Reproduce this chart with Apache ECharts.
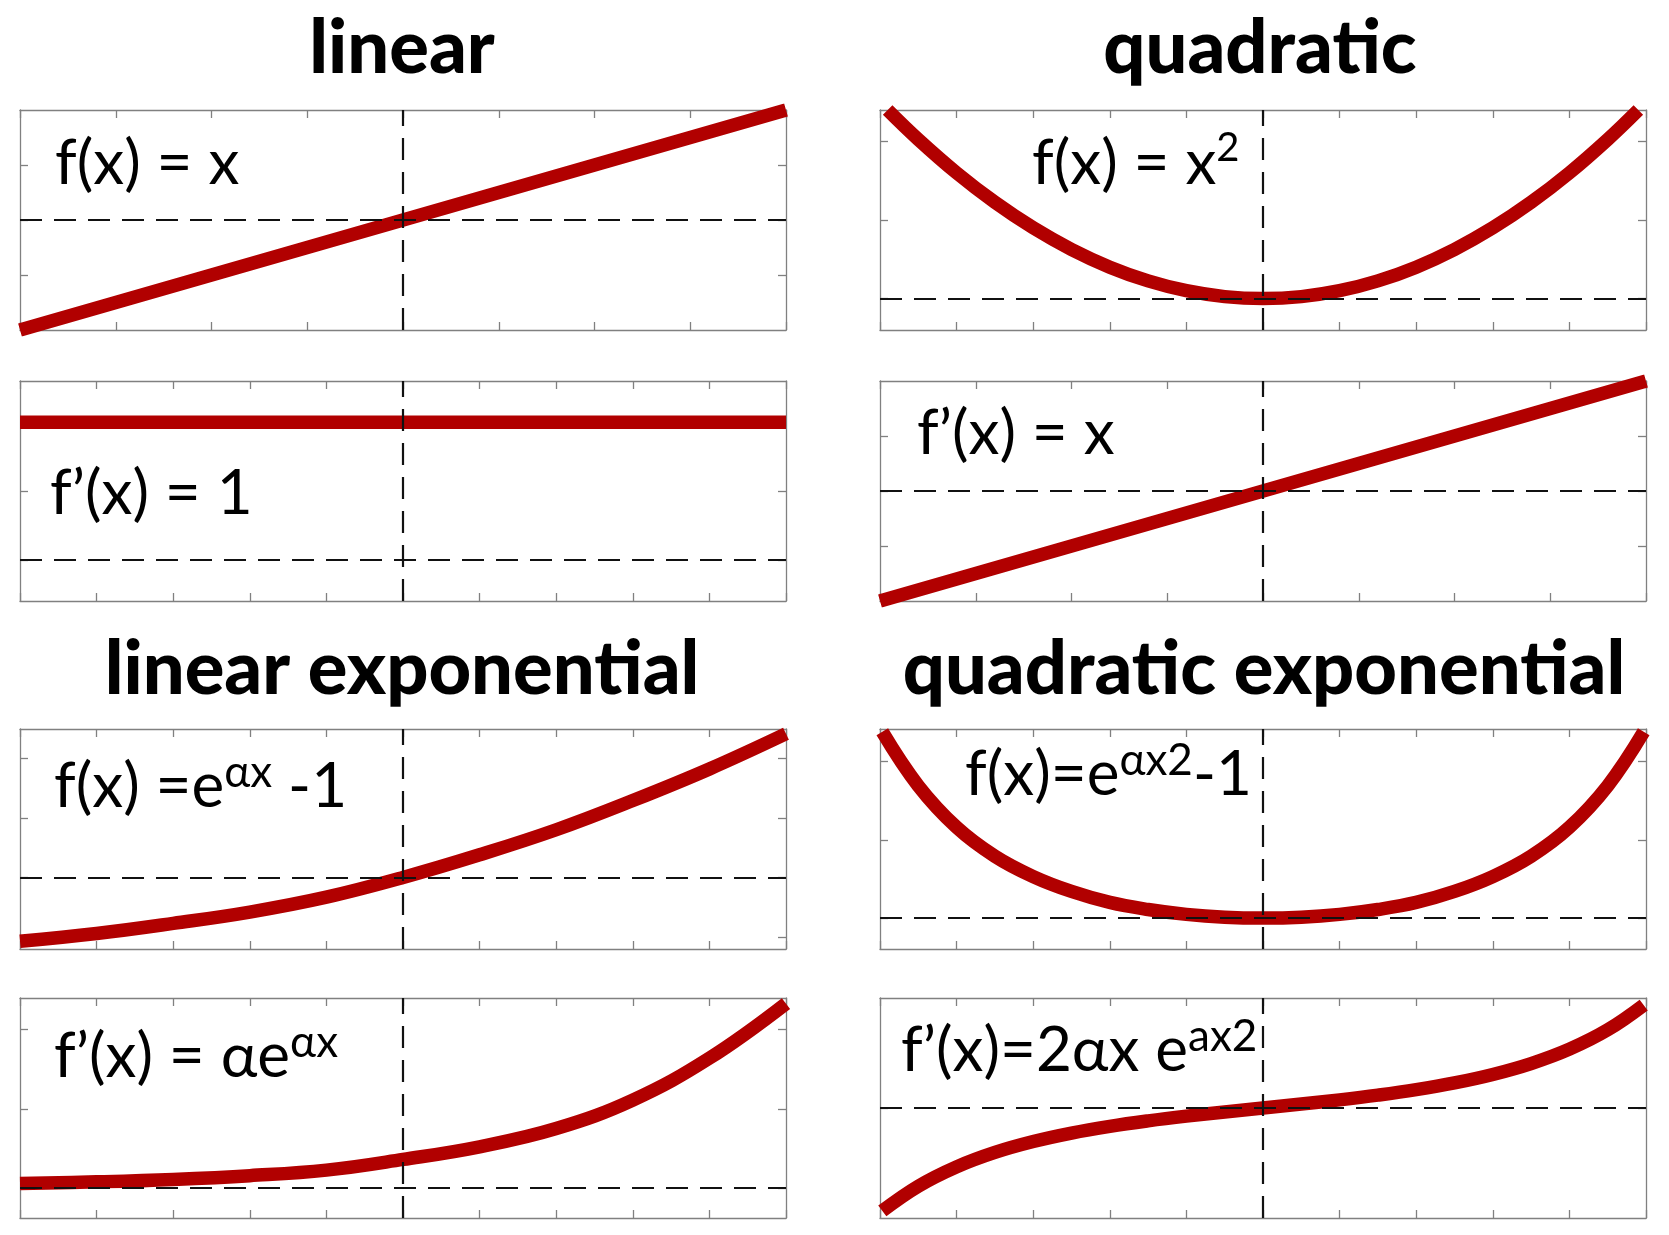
<!DOCTYPE html>
<html>
<head>
<meta charset="utf-8">
<script src="https://cdn.jsdelivr.net/npm/echarts@6/dist/echarts.min.js"></script>
<style>
html,body{margin:0;padding:0;background:#fff;}
#chart{width:1669px;height:1235px;}
</style>
</head>
<body>
<div id="chart"></div>
<script>
// ---------------- data ----------------
const titles = ['linear', 'quadratic', 'linear exponential', 'quadratic exponential'];

// linear: f(x) = x
const xLinF = [-4, -3, -2, -1, 0, 1, 2, 3, 4];
const yLinF = [-4, -3, -2, -1, 0, 1, 2, 3, 4];
// linear: f'(x) = 1
const xLinD = [-5, -4, -3, -2, -1, 0, 1, 2, 3, 4, 5];
const yLinD = [1, 1, 1, 1, 1, 1, 1, 1, 1, 1, 1];
// quadratic: f(x) = x^2
const xQuadF = [-4.9, -4.5, -4, -3.5, -3, -2.5, -2, -1.5, -1, -0.5, 0, 0.5, 1, 1.5, 2, 2.5, 3, 3.5, 4, 4.5, 4.9];
const yQuadF = [24, 20.25, 16, 12.25, 9, 6.25, 4, 2.25, 1, 0.25, 0, 0.25, 1, 2.25, 4, 6.25, 9, 12.25, 16, 20.25, 24];
// quadratic: f'(x) = x
const xQuadD = [-4, -3, -2, -1, 0, 1, 2, 3, 4];
const yQuadD = [-4, -3, -2, -1, 0, 1, 2, 3, 4];
// linear exponential: f(x) = e^(ax) - 1
const xLinExpF = [-5, -4, -3, -2, -1, 0, 1, 2, 3, 4, 5];
const yLinExpF = [-1.07, -0.94, -0.77, -0.58, -0.33, 0, 0.38, 0.80, 1.29, 1.82, 2.41];
// linear exponential: f'(x) = a e^(ax)
const xLinExpD = [-5, -4, -3, -2, -1, 0, 1, 2, 3, 4, 5];
const yLinExpD = [0.055, 0.077, 0.108, 0.155, 0.225, 0.36, 0.52, 0.75, 1.11, 1.64, 2.33];
// quadratic exponential: f(x) = e^(ax^2) - 1
const xQuadExpF = [-4.97, -4.5, -4, -3.5, -3, -2.5, -2, -1.5, -1, -0.5, 0, 0.5, 1, 1.5, 2, 2.5, 3, 3.5, 4, 4.5, 4.97];
const yQuadExpF = [2.38, 1.69, 1.16, 0.79, 0.53, 0.34, 0.20, 0.11, 0.047, 0.011, 0, 0.011, 0.047, 0.11, 0.20, 0.34, 0.53, 0.79, 1.16, 1.69, 2.38];
// quadratic exponential: f'(x) = 2ax e^(ax^2)
const xQuadExpD = [-4.97, -4.5, -4, -3.5, -3, -2.5, -2, -1.5, -1, -0.5, 0, 0.5, 1, 1.5, 2, 2.5, 3, 3.5, 4, 4.5, 4.97];
const yQuadExpD = [-0.936, -0.711, -0.535, -0.404, -0.305, -0.228, -0.167, -0.117, -0.074, -0.036, 0, 0.036, 0.074, 0.117, 0.167, 0.228, 0.305, 0.404, 0.535, 0.711, 0.936];

// axis ranges and tick values
const xRange8 = [-4, 4];
const xRange10 = [-5, 5];
const yRangeLinF = [-4, 4],      yTicksLinF = [-2, 0, 2];
const yRangeLinD = [-0.3, 1.3],  yTicksLinD = [0, 0.5, 1];
const yRangeQuadF = [-4, 24],    yTicksQuadF = [0, 10, 20];
const yRangeQuadD = [-4, 4],     yTicksQuadD = [-2, 0, 2];
const yRangeLinExpF = [-1.2, 2.49], yTicksLinExpF = [-1, 0, 1, 2];
const yRangeLinExpD = [-0.38, 2.4], yTicksLinExpD = [0, 1, 2];
const yRangeQuadExpF = [-0.395, 2.416], yTicksQuadExpF = [0, 1, 2];
const yRangeQuadExpD = [-1, 1],  yTicksQuadExpD = [0];

// ---------------- layout / style ----------------
const RED = '#b10000';
const FRAME = '#808080';
const LEFT_COL = 20, RIGHT_COL = 880, COL_W = 766, ROW_H = 220;
const ROWS = [110, 381, 729, 998];

const panels = [
  {x: xLinF, y: yLinF, xr: xRange8, yr: yRangeLinF, yt: yTicksLinF, left: LEFT_COL, top: ROWS[0], smooth: false},
  {x: xLinD, y: yLinD, xr: xRange10, yr: yRangeLinD, yt: yTicksLinD, left: LEFT_COL, top: ROWS[1], smooth: false},
  {x: xQuadF, y: yQuadF, xr: xRange10, yr: yRangeQuadF, yt: yTicksQuadF, left: RIGHT_COL, top: ROWS[0], smooth: true},
  {x: xQuadD, y: yQuadD, xr: xRange8, yr: yRangeQuadD, yt: yTicksQuadD, left: RIGHT_COL, top: ROWS[1], smooth: false},
  {x: xLinExpF, y: yLinExpF, xr: xRange10, yr: yRangeLinExpF, yt: yTicksLinExpF, left: LEFT_COL, top: ROWS[2], smooth: true},
  {x: xLinExpD, y: yLinExpD, xr: xRange10, yr: yRangeLinExpD, yt: yTicksLinExpD, left: LEFT_COL, top: ROWS[3], smooth: true},
  {x: xQuadExpF, y: yQuadExpF, xr: xRange10, yr: yRangeQuadExpF, yt: yTicksQuadExpF, left: RIGHT_COL, top: ROWS[2], smooth: true},
  {x: xQuadExpD, y: yQuadExpD, xr: xRange10, yr: yRangeQuadExpD, yt: yTicksQuadExpD, left: RIGHT_COL, top: ROWS[3], smooth: true}
];

const grids = [], xAxes = [], yAxes = [], series = [];
const lineAx = {show: true, onZero: false, lineStyle: {color: FRAME, width: 1.3}};
const tickSt = {color: FRAME, width: 1.3};

panels.forEach((p, i) => {
  grids.push({left: p.left, top: p.top, width: COL_W, height: ROW_H, containLabel: false});
  ['bottom', 'top'].forEach(pos => {
    xAxes.push({
      type: 'value', gridIndex: i, position: pos, min: p.xr[0], max: p.xr[1], interval: 1,
      axisLine: lineAx,
      axisTick: {show: true, inside: true, length: 8, lineStyle: tickSt},
      axisLabel: {show: false}, splitLine: {show: false}
    });
  });
  ['left', 'right'].forEach(pos => {
    yAxes.push({
      type: 'value', gridIndex: i, position: pos, min: p.yr[0], max: p.yr[1],
      axisLine: lineAx,
      axisTick: {show: true, inside: true, length: 8, lineStyle: tickSt, customValues: p.yt},
      axisLabel: {show: false}, splitLine: {show: false}
    });
  });
  series.push({
    type: 'line', xAxisIndex: 2 * i, yAxisIndex: 2 * i,
    data: p.x.map((v, k) => [v, p.y[k]]),
    symbol: 'none', showSymbol: false,
    smooth: p.smooth ? 0.4 : false,
    lineStyle: {color: RED, width: 13.5, cap: 'butt', join: 'round'},
    clip: true, z: 2, silent: true,
    markLine: {
      silent: true, symbol: ['none', 'none'], label: {show: false}, animation: false,
      lineStyle: {type: [22, 12], color: '#111', width: 2.2},
      emphasis: {disabled: true},
      data: [{xAxis: 0}, {yAxis: 0}]
    }
  });
});

// ---------------- text ----------------
const FS = 62, LH = 72, SFS = 44, SLH = 54;
const FONT = 'Lato, "Noto Sans", sans-serif';
const rich = {
  m: {fontSize: FS, fontFamily: FONT, lineHeight: LH, fill: '#000', verticalAlign: 'middle'},
  s: {fontSize: SFS, fontFamily: FONT, lineHeight: SLH, fill: '#000', verticalAlign: 'top'},
  s2: {fontSize: 40, fontFamily: FONT, lineHeight: 50, fill: '#000', verticalAlign: 'top'}
};
const formulas = [
  {t: '{m|f(x) = x}', x: 55, base: 188},
  {t: '{m|f\u2019(x) = 1}', x: 50, base: 518},
  {t: '{m|f(x) = x}{s2|2}', x: 1032, base: 188},
  {t: '{m|f\u2019(x) = x}', x: 917, base: 458},
  {t: '{m|f(x) =e}{s|\u03b1x}{m| -1}', x: 54, base: 811},
  {t: '{m|f\u2019(x) = \u03b1e}{s|\u03b1x}', x: 54, base: 1081},
  {t: '{m|f(x)=e}{s|\u03b1x2}{m|-1}', x: 965, base: 799},
  {t: '{m|f\u2019(x)=2\u03b1x e}{s|ax2}', x: 901, base: 1075}
];
const TFS = 74;
const titlePos = [[402, 78], [1260, 78], [402, 699], [1264, 699]];

const graphic = [];
titles.forEach((t, i) => {
  graphic.push({
    type: 'text', x: titlePos[i][0], y: titlePos[i][1] - 0.387 * TFS, silent: true,
    style: {text: t, fill: '#000', fontSize: TFS, fontWeight: 900, fontFamily: FONT, align: 'center', verticalAlign: 'middle'}
  });
});
formulas.forEach(f => {
  graphic.push({
    type: 'text', x: f.x, y: f.base - LH / 2 - 0.387 * FS, silent: true, z: 10,
    style: {text: f.t, rich: rich, align: 'left', verticalAlign: 'top', fill: '#000', fontSize: FS, fontFamily: FONT}
  });
});

const chart = echarts.init(document.getElementById('chart'), null, {renderer: 'canvas'});
chart.setOption({
  backgroundColor: '#fff',
  animation: false,
  grid: grids,
  xAxis: xAxes,
  yAxis: yAxes,
  series: series,
  graphic: graphic
});
</script>
</body>
</html>
